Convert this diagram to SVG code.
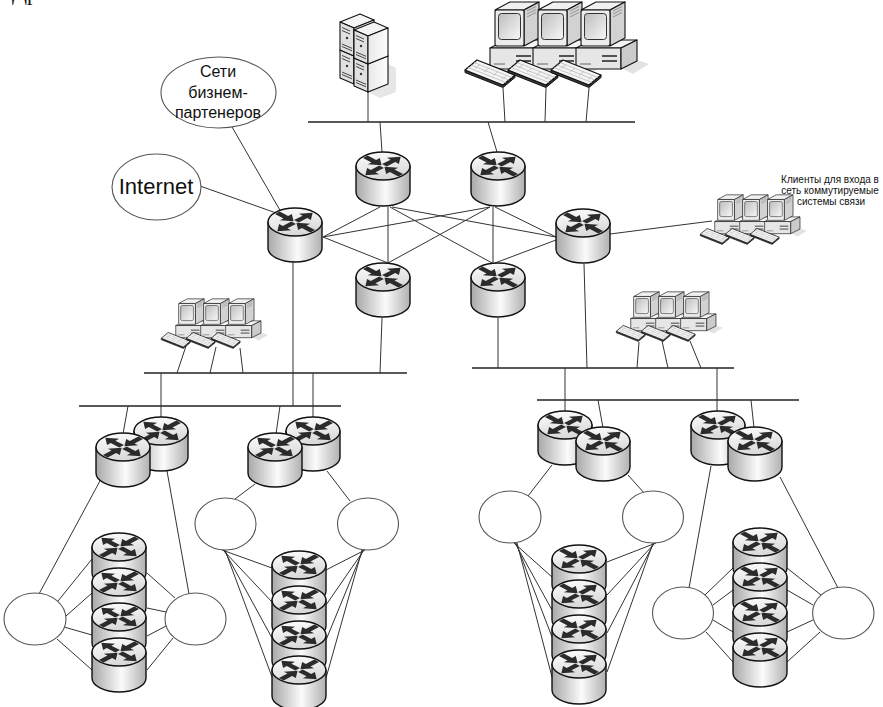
<svg xmlns="http://www.w3.org/2000/svg" width="883" height="707" viewBox="0 0 883 707">
<defs>
<style>
  .ln{stroke:#333;stroke-width:1;fill:none}
  .bus{stroke:#222;stroke-width:1.4;fill:none}
  .cloud{fill:#fff;stroke:#555;stroke-width:1.1}
  .lbl{font-family:"Liberation Sans",Arial,sans-serif;fill:#111}
  .o{stroke:#111;stroke-width:1.4;stroke-linejoin:round}
  .t{stroke:#111;stroke-width:1.1;stroke-linejoin:round}
  .k{stroke:#b4b4b4;stroke-width:0.7;fill:none}
</style>
<linearGradient id="rbody" x1="0" y1="0" x2="1" y2="0">
  <stop offset="0" stop-color="#a8a8a8"/>
  <stop offset="0.55" stop-color="#fbfbfb"/>
  <stop offset="1" stop-color="#b0b0b0"/>
</linearGradient>
<linearGradient id="rtop" x1="0" y1="0" x2="0.3" y2="1">
  <stop offset="0" stop-color="#ffffff"/>
  <stop offset="1" stop-color="#d9d9d9"/>
</linearGradient>
<linearGradient id="scr" x1="0" y1="0" x2="1" y2="1">
  <stop offset="0" stop-color="#bdbdbd"/>
  <stop offset="1" stop-color="#f8f8f8"/>
</linearGradient>
<linearGradient id="tside" x1="0" y1="0" x2="1" y2="0">
  <stop offset="0" stop-color="#e9e9e9"/>
  <stop offset="1" stop-color="#fcfcfc"/>
</linearGradient>

<!-- single arrow of the router glyph, pointing along +x -->
<polygon id="arr" points="0,-3.3 12,-3.3 12,-8.5 23,0 12,8.5 12,3.3 0,3.3"/>

<!-- router: 56 x 56 cylinder -->
<g id="router">
  <path class="o" d="M1,15 V41 A27,14 0 0 0 55,41 V15 Z" fill="url(#rbody)"/>
  <ellipse class="o" cx="28" cy="15" rx="27" ry="14" fill="url(#rtop)"/>
  <g transform="translate(28,15) scale(1,0.52)" fill="#2b2b2b">
    <use href="#arr" transform="rotate(-45) translate(2,0)"/>
    <use href="#arr" transform="rotate(135) translate(2,0)"/>
    <use href="#arr" transform="rotate(45) translate(-25,0)"/>
    <use href="#arr" transform="rotate(225) translate(-25,0)"/>
  </g>
</g>
<g id="routerM">
  <path class="o" d="M1,15 V41 A27,14 0 0 0 55,41 V15 Z" fill="url(#rbody)"/>
  <ellipse class="o" cx="28" cy="15" rx="27" ry="14" fill="url(#rtop)"/>
  <g transform="translate(28,15) scale(-1,0.52)" fill="#2b2b2b">
    <use href="#arr" transform="rotate(-45) translate(2,0)"/>
    <use href="#arr" transform="rotate(135) translate(2,0)"/>
    <use href="#arr" transform="rotate(45) translate(-25,0)"/>
    <use href="#arr" transform="rotate(225) translate(-25,0)"/>
  </g>
</g>

<!-- workstation: desktop case, CRT monitor and keyboard -->
<g id="pc">
  <polygon points="48,64 64,56 76,60 60,70" fill="#e2e2e2"/>
  <polygon class="t" points="3,44 48,44 64,36 19,36" fill="#f3f3f3"/>
  <rect class="t" x="3" y="44" width="45" height="21" fill="#e6e6e6"/>
  <polygon class="t" points="48,44 64,36 64,57 48,65" fill="#cbcbcb"/>
  <path d="M29,52 H44 M29,57 H44" stroke="#222" stroke-width="1.4"/>
  <path d="M7,60 H18" stroke="#555" stroke-width="0.9"/>
  <!-- monitor -->
  <polygon class="t" points="8,6 37,6 52,-2 23,-2" fill="#f1f1f1"/>
  <polygon class="t" points="37,6 52,-2 52,34 37,42" fill="#d2d2d2"/>
  <path d="M40,7 L49,2.5 M40,10 L49,5.5 M40,13 L49,8.5" stroke="#777" stroke-width="0.7"/>
  <rect class="t" x="8" y="6" width="29" height="36" rx="2" fill="#ececec"/>
  <rect x="11.5" y="9.5" width="22" height="26" rx="3" fill="url(#scr)" stroke="#333" stroke-width="1"/>
  <!-- keyboard -->
  <polygon points="-22,66 16,81 28,71 28,73.5 16,83.5 -22,68.5" fill="#3a3a3a" stroke="#111" stroke-width="1" stroke-linejoin="round"/>
  <polygon points="-22,66 -10,56 28,71 16,81" fill="#f4f4f4" stroke="#111" stroke-width="1.3" stroke-linejoin="round"/>
  <path class="k" d="M-19,63.5 L19,78.5 M-16,61 L22,76 M-13,58.5 L25,73.5 M-12,64.5 L-7,60.4 M-3,68.1 L2,64 M6,71.7 L11,67.6 M15,75.3 L20,71.2"/>
</g>

<!-- tower server unit -->
<g id="tower">
  <polygon class="t" points="0,8 20,0 34,6 14,14" fill="#f4f4f4"/>
  <polygon class="t" points="0,8 14,14 14,42 0,36" fill="#e0e0e0"/>
  <polygon class="t" points="14,14 34,6 34,34 14,42" fill="url(#tside)"/>
  <path d="M2,13.5 L10,17 M2,16.5 L10,20 M2,30 L12,34.3 M2,32.5 L12,36.8" stroke="#333" stroke-width="0.9"/>
  <circle cx="7" cy="24" r="1.2" fill="#333"/>
</g>
</defs>

<rect width="883" height="707" fill="#fff"/>

<text x="12" y="0" font-family="'Liberation Serif',serif" font-size="22" fill="#111">Др</text>

<!-- links -->
<g id="connectors">
  <!-- backbone segment with servers and workstations -->
  <line class="bus" x1="308" y1="122" x2="635" y2="122"/>
  <line class="ln" x1="368" y1="92" x2="368" y2="122"/>
  <line class="ln" x1="503" y1="88" x2="505" y2="122"/>
  <line class="ln" x1="546" y1="88" x2="545" y2="122"/>
  <line class="ln" x1="589" y1="88" x2="586" y2="122"/>
  <line class="ln" x1="380" y1="122" x2="382" y2="152"/>
  <line class="ln" x1="488" y1="122" x2="497" y2="152"/>
  <!-- external networks -->
  <line class="ln" x1="232" y1="127" x2="281" y2="212"/>
  <line class="ln" x1="200" y1="186" x2="279" y2="214"/>
  <!-- core mesh -->
  <line class="ln" x1="323" y1="237" x2="380" y2="207"/>
  <line class="ln" x1="323" y1="237" x2="490" y2="207"/>
  <line class="ln" x1="323" y1="237" x2="388" y2="263"/>
  <line class="ln" x1="388" y1="207" x2="388" y2="263"/>
  <line class="ln" x1="390" y1="207" x2="492" y2="263"/>
  <line class="ln" x1="392" y1="207" x2="556" y2="237"/>
  <line class="ln" x1="490" y1="207" x2="388" y2="263"/>
  <line class="ln" x1="493" y1="207" x2="493" y2="263"/>
  <line class="ln" x1="495" y1="207" x2="556" y2="237"/>
  <line class="ln" x1="495" y1="263" x2="556" y2="240"/>
  <!-- core to distribution -->
  <line class="ln" x1="293" y1="262" x2="293" y2="406"/>
  <line class="ln" x1="382" y1="318" x2="380" y2="373"/>
  <line class="ln" x1="498" y1="318" x2="498" y2="368"/>
  <line class="ln" x1="584" y1="264" x2="587" y2="368"/>
  <line class="ln" x1="610" y1="234" x2="712" y2="221"/>
  <!-- left distribution -->
  <line class="bus" x1="144" y1="373" x2="407" y2="373"/>
  <line class="bus" x1="79" y1="406" x2="341" y2="406"/>
  <line class="ln" x1="186" y1="346" x2="177" y2="373"/>
  <line class="ln" x1="216" y1="347" x2="210" y2="373"/>
  <line class="ln" x1="240" y1="348" x2="243" y2="373"/>
  <line class="ln" x1="161" y1="373" x2="161" y2="418"/>
  <line class="ln" x1="313" y1="373" x2="313" y2="418"/>
  <line class="ln" x1="128" y1="406" x2="123" y2="434"/>
  <line class="ln" x1="280" y1="406" x2="276" y2="434"/>
  <!-- right distribution -->
  <line class="bus" x1="472" y1="368" x2="734" y2="368"/>
  <line class="bus" x1="537" y1="400" x2="799" y2="400"/>
  <line class="ln" x1="639" y1="342" x2="637" y2="368"/>
  <line class="ln" x1="662" y1="341" x2="668" y2="368"/>
  <line class="ln" x1="690" y1="341" x2="701" y2="368"/>
  <line class="ln" x1="565" y1="368" x2="565" y2="412"/>
  <line class="ln" x1="717" y1="368" x2="717" y2="412"/>
  <line class="ln" x1="598" y1="400" x2="603" y2="428"/>
  <line class="ln" x1="751" y1="400" x2="754" y2="428"/>
  <!-- access cluster A -->
  <line class="ln" x1="101" y1="479" x2="39" y2="594"/>
  <line class="ln" x1="167" y1="471" x2="189" y2="594"/>
  <line class="ln" x1="58" y1="601" x2="92" y2="559"/>
  <line class="ln" x1="66" y1="616" x2="92" y2="593"/>
  <line class="ln" x1="64" y1="627" x2="92" y2="635"/>
  <line class="ln" x1="57" y1="639" x2="92" y2="670"/>
  <line class="ln" x1="175" y1="598" x2="147" y2="573"/>
  <line class="ln" x1="166" y1="612" x2="147" y2="608"/>
  <line class="ln" x1="166" y1="626" x2="147" y2="636"/>
  <line class="ln" x1="173" y1="638" x2="147" y2="670"/>
  <!-- access cluster B -->
  <line class="ln" x1="255" y1="484" x2="235" y2="499"/>
  <line class="ln" x1="327" y1="471" x2="350" y2="501"/>
  <line class="ln" x1="222" y1="550" x2="272" y2="568"/>
  <line class="ln" x1="223" y1="550" x2="272" y2="602"/>
  <line class="ln" x1="224" y1="550" x2="272" y2="638"/>
  <line class="ln" x1="225" y1="550" x2="272" y2="677"/>
  <line class="ln" x1="365" y1="550" x2="326" y2="570"/>
  <line class="ln" x1="364" y1="550" x2="326" y2="605"/>
  <line class="ln" x1="363" y1="550" x2="326" y2="640"/>
  <line class="ln" x1="362" y1="550" x2="326" y2="678"/>
  <!-- access cluster C -->
  <line class="ln" x1="552" y1="465" x2="528" y2="496"/>
  <line class="ln" x1="628" y1="475" x2="645" y2="494"/>
  <line class="ln" x1="514" y1="543" x2="552" y2="577"/>
  <line class="ln" x1="515" y1="543" x2="552" y2="610"/>
  <line class="ln" x1="516" y1="543" x2="552" y2="637"/>
  <line class="ln" x1="517" y1="543" x2="552" y2="677"/>
  <line class="ln" x1="656" y1="543" x2="607" y2="562"/>
  <line class="ln" x1="655" y1="543" x2="607" y2="595"/>
  <line class="ln" x1="654" y1="543" x2="607" y2="633"/>
  <line class="ln" x1="653" y1="543" x2="607" y2="672"/>
  <!-- access cluster D -->
  <line class="ln" x1="711" y1="466" x2="689" y2="588"/>
  <line class="ln" x1="780" y1="477" x2="838" y2="588"/>
  <line class="ln" x1="705" y1="595" x2="733" y2="568"/>
  <line class="ln" x1="713" y1="605" x2="733" y2="590"/>
  <line class="ln" x1="713" y1="620" x2="733" y2="632"/>
  <line class="ln" x1="706" y1="632" x2="733" y2="662"/>
  <line class="ln" x1="821" y1="595" x2="787" y2="568"/>
  <line class="ln" x1="813" y1="605" x2="787" y2="590"/>
  <line class="ln" x1="813" y1="620" x2="787" y2="632"/>
  <line class="ln" x1="820" y1="632" x2="787" y2="662"/>
</g>

<!-- external networks -->
<g id="partners">
  <ellipse class="cloud" cx="218.5" cy="92.5" rx="57.5" ry="35.5"/>
  <text class="lbl" font-size="16" text-anchor="middle"><tspan x="218" y="77">Сети</tspan><tspan x="218" y="97.5">бизнем-</tspan><tspan x="218" y="118">партенеров</tspan></text>
</g>
<g id="internet">
  <ellipse class="cloud" cx="156.5" cy="187" rx="44.5" ry="33"/>
  <text class="lbl" x="156" y="193.5" font-size="22" text-anchor="middle">Internet</text>
</g>

<!-- servers -->
<g id="servers">
  <polygon points="388,64 396,68 396,92 380,98 368,92" fill="#e6e6e6"/>
  <use href="#tower" x="340" y="42"/>
  <use href="#tower" x="340" y="14"/>
  <use href="#tower" x="354" y="50"/>
  <use href="#tower" x="354" y="22"/>
</g>

<!-- workstations on the backbone -->
<g id="workstations-top">
  <use href="#pc" x="487" y="4"/>
  <use href="#pc" x="530" y="4"/>
  <use href="#pc" x="573" y="4"/>
</g>

<!-- core routers -->
<g id="core-r1"><use href="#router" x="267" y="207"/></g>
<g id="core-r2"><use href="#router" x="355" y="151"/></g>
<g id="core-r3"><use href="#router" x="470" y="151"/></g>
<g id="core-r4"><use href="#router" x="355" y="262"/></g>
<g id="core-r5"><use href="#router" x="470" y="262"/></g>
<g id="core-r6"><use href="#router" x="555" y="208"/></g>

<!-- dial-up clients -->
<g id="dialup-clients">
  <g transform="translate(713,196) scale(0.58)">
    <use href="#pc" x="0" y="0"/>
    <use href="#pc" x="43" y="0"/>
    <use href="#pc" x="86" y="0"/>
  </g>
  <text class="lbl" font-size="10" text-anchor="middle" fill="#333"><tspan x="830" y="183">Клиенты для входа в</tspan><tspan x="830" y="194">сеть коммутируемые</tspan><tspan x="831" y="205">системы связи</tspan></text>
</g>

<!-- workstations on distribution segments -->
<g id="workstations-left" transform="translate(174,300) scale(0.58)">
  <use href="#pc" x="0" y="0"/>
  <use href="#pc" x="43" y="0"/>
  <use href="#pc" x="86" y="0"/>
</g>
<g id="workstations-right" transform="translate(629,293) scale(0.58)">
  <use href="#pc" x="0" y="0"/>
  <use href="#pc" x="43" y="0"/>
  <use href="#pc" x="86" y="0"/>
</g>

<!-- distribution router pairs -->
<g id="dist-left-1">
  <use href="#routerM" x="133" y="416"/>
  <use href="#routerM" x="95" y="432"/>
</g>
<g id="dist-left-2">
  <use href="#routerM" x="285" y="416"/>
  <use href="#routerM" x="247" y="432"/>
</g>
<g id="dist-right-1">
  <use href="#router" x="537" y="410"/>
  <use href="#router" x="575" y="426"/>
</g>
<g id="dist-right-2">
  <use href="#router" x="690" y="410"/>
  <use href="#router" x="727" y="426"/>
</g>

<!-- access cluster A -->
<g id="net-a1"><ellipse class="cloud" cx="35" cy="619" rx="31" ry="26"/></g>
<g id="net-a2"><ellipse class="cloud" cx="195.5" cy="619" rx="30.5" ry="26"/></g>
<g id="stack-a">
  <use href="#routerM" x="91" y="532"/>
  <use href="#routerM" x="91" y="567"/>
  <use href="#routerM" x="91" y="602"/>
  <use href="#routerM" x="91" y="637"/>
</g>

<!-- access cluster B -->
<g id="net-b1"><ellipse class="cloud" cx="225.5" cy="524" rx="30.5" ry="26"/></g>
<g id="net-b2"><ellipse class="cloud" cx="368" cy="524" rx="30.5" ry="26"/></g>
<g id="stack-b">
  <use href="#routerM" x="271" y="550"/>
  <use href="#routerM" x="271" y="585"/>
  <use href="#routerM" x="271" y="620"/>
  <use href="#routerM" x="271" y="655"/>
</g>

<!-- access cluster C -->
<g id="net-c1"><ellipse class="cloud" cx="510" cy="517" rx="31" ry="26"/></g>
<g id="net-c2"><ellipse class="cloud" cx="653" cy="517" rx="30.5" ry="26"/></g>
<g id="stack-c">
  <use href="#router" x="551" y="544"/>
  <use href="#router" x="551" y="579"/>
  <use href="#router" x="551" y="614"/>
  <use href="#router" x="551" y="649"/>
</g>

<!-- access cluster D -->
<g id="net-d1"><ellipse class="cloud" cx="683" cy="613" rx="30.5" ry="26"/></g>
<g id="net-d2"><ellipse class="cloud" cx="843.3" cy="613" rx="30.7" ry="26"/></g>
<g id="stack-d">
  <use href="#router" x="732" y="527"/>
  <use href="#router" x="732" y="562"/>
  <use href="#router" x="732" y="597"/>
  <use href="#router" x="732" y="632"/>
</g>
</svg>
